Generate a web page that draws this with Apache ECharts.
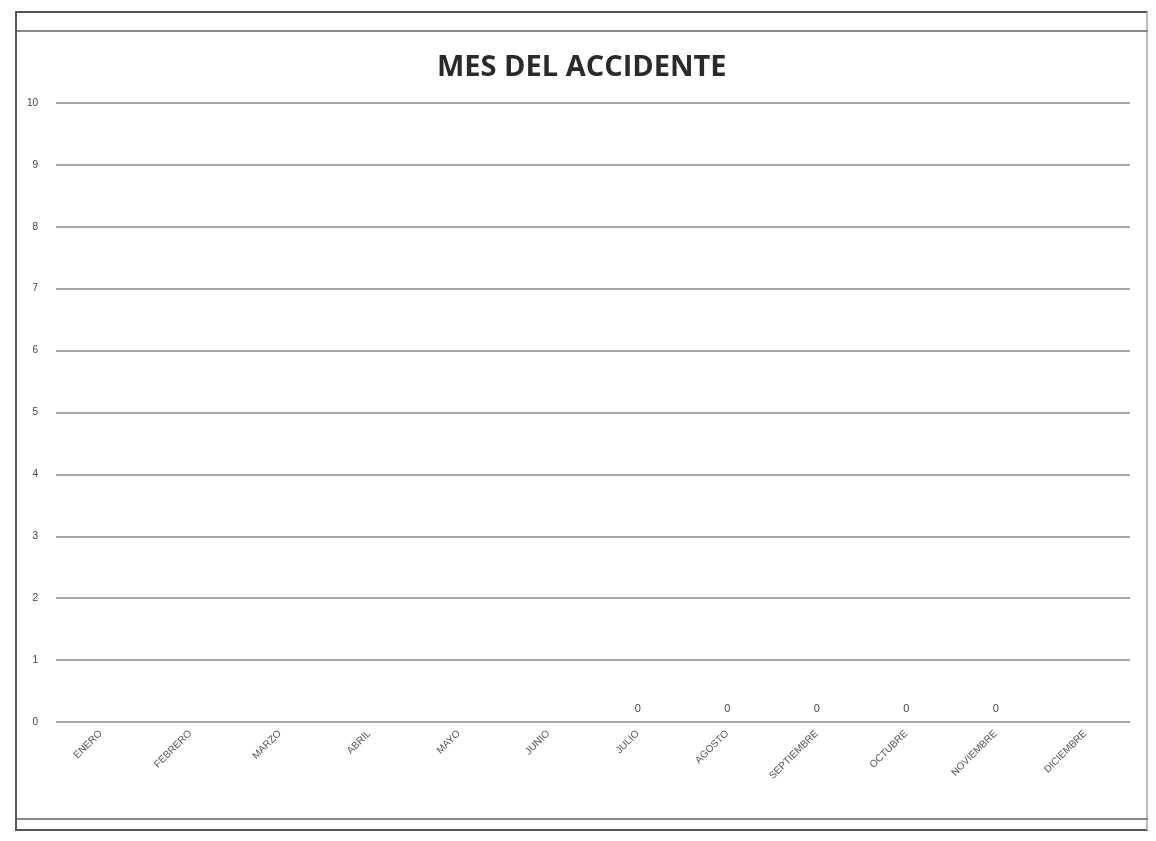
<!DOCTYPE html>
<html>
<head>
<meta charset="utf-8">
<script src="https://cdn.jsdelivr.net/npm/echarts@6/dist/echarts.min.js"></script>
<style>
  html, body { margin: 0; padding: 0; background: #fff; }
  #main { position: absolute; left: 0; top: 0; width: 1156px; height: 841px; }
  .frame { position: absolute; left: 15px; top: 11px; width: 1133px; height: 820px; border: 2px solid #555; border-right-color: #bbb; box-sizing: border-box; pointer-events: none; }
  .hline { position: absolute; left: 17px; width: 1131px; height: 0; border-top: 2px solid #888; pointer-events: none; }
</style>
</head>
<body>
<div id="main"></div>
<div class="frame"></div>
<div class="hline" style="top:30px"></div>
<div class="hline" style="top:818px"></div>
<script>
// meses y valores (solo julio-noviembre tienen dato, todos 0)
var meses = ['ENERO', 'FEBRERO', 'MARZO', 'ABRIL', 'MAYO', 'JUNIO', 'JULIO',
  'AGOSTO', 'SEPTIEMBRE', 'OCTUBRE', 'NOVIEMBRE', 'DICIEMBRE'];
var accidentes = [null, null, null, null, null, null, 0, 0, 0, 0, 0, null];
var tituloTexto = 'MES DEL ACCIDENTE';

var chartDom = document.getElementById('main');
var myChart = echarts.init(chartDom);

var option = {
  backgroundColor: '#fff',
  animation: false,
  title: {
    text: tituloTexto,
    left: 432,
    top: 48,
    textStyle: {
      fontFamily: 'Open Sans',
      fontWeight: 'bold',
      fontSize: 29,
      color: '#2a2a2a'
    }
  },
  grid: { left: 56, right: 26, top: 103, bottom: 119 },
  xAxis: {
    type: 'category',
    data: meses,
    axisLine: { show: false },
    axisTick: { show: false },
    axisLabel: {
      rotate: 45,
      fontSize: 10,
      color: '#555',
      fontFamily: 'Liberation Sans',
      margin: 10
    }
  },
  yAxis: {
    type: 'value',
    min: 0,
    max: 10,
    interval: 1,
    axisLine: { show: false },
    axisTick: { show: false },
    axisLabel: { fontSize: 10, color: '#444', margin: 18 },
    splitLine: { lineStyle: { color: '#8a8a8a', width: 1.5 } }
  },
  series: [{
    type: 'bar',
    data: accidentes,
    barWidth: '50%',
    itemStyle: { color: '#777' },
    label: {
      show: true,
      position: 'top',
      distance: 8,
      fontSize: 11,
      color: '#444'
    }
  }]
};
myChart.setOption(option);
</script>
</body>
</html>
